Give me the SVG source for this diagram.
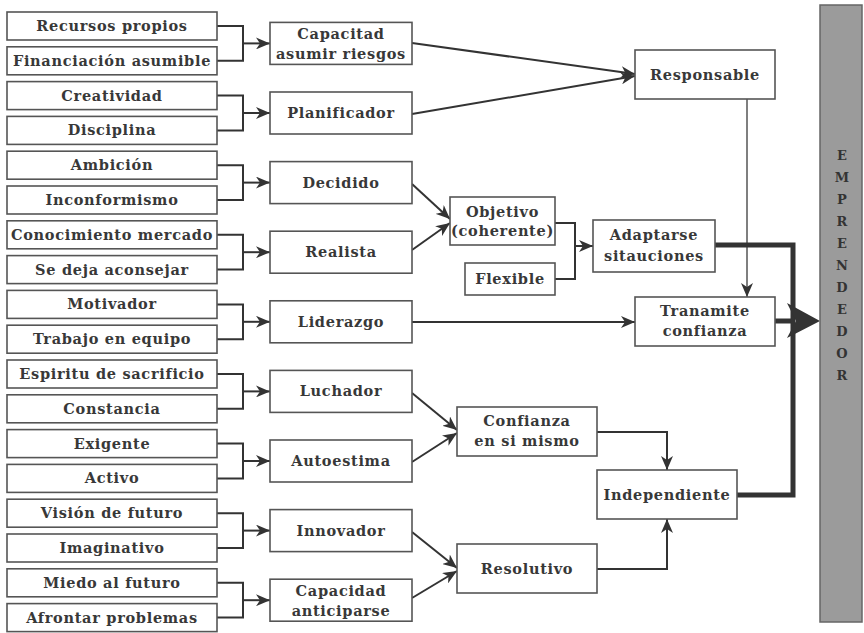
<svg xmlns="http://www.w3.org/2000/svg" width="864" height="633" viewBox="0 0 864 633">
<style>
.box{fill:#fff;stroke:#555;stroke-width:1.6}
.t{font-family:"DejaVu Serif","Liberation Serif",serif;font-weight:bold;font-size:14.5px;letter-spacing:0.7px;fill:#383838;text-anchor:middle}
.c{fill:none;stroke:#333;stroke-width:2}
.thin{fill:none;stroke:#555;stroke-width:1.5}
.thick{fill:none;stroke:#333;stroke-width:5}
.bar{fill:#9b9b9b;stroke:#666;stroke-width:1.5}
.L{font-family:"DejaVu Serif","Liberation Serif",serif;font-weight:bold;font-size:13px;fill:#333;text-anchor:middle}
</style>
<defs>
<marker id="ah" viewBox="0 0 14 12" refX="14" refY="6" markerWidth="14" markerHeight="12" markerUnits="userSpaceOnUse" orient="auto">
<path d="M0,0 L14,6 L0,12 L4,6 z" fill="#333"/>
</marker>
</defs>
<rect width="864" height="633" fill="#fff"/>

<g id="connectors">
<path class="c" d="M217,26 H243 V60.8 H217"/><path class="c" d="M243,43.4 H270" marker-end="url(#ah)"/>
<path class="c" d="M217,95.6 H243 V130.4 H217"/><path class="c" d="M243,113 H270" marker-end="url(#ah)"/>
<path class="c" d="M217,165.2 H243 V200 H217"/><path class="c" d="M243,182.6 H270" marker-end="url(#ah)"/>
<path class="c" d="M217,234.8 H243 V269.6 H217"/><path class="c" d="M243,252.2 H270" marker-end="url(#ah)"/>
<path class="c" d="M217,304.4 H243 V339.2 H217"/><path class="c" d="M243,321.8 H270" marker-end="url(#ah)"/>
<path class="c" d="M217,374 H243 V408.8 H217"/><path class="c" d="M243,391.4 H270" marker-end="url(#ah)"/>
<path class="c" d="M217,443.6 H243 V478.4 H217"/><path class="c" d="M243,461 H270" marker-end="url(#ah)"/>
<path class="c" d="M217,513.2 H243 V548 H217"/><path class="c" d="M243,530.6 H270" marker-end="url(#ah)"/>
<path class="c" d="M217,582.8 H243 V617.6 H217"/><path class="c" d="M243,600.2 H270" marker-end="url(#ah)"/>

<path class="c" d="M412,43 L635,74" marker-end="url(#ah)"/>
<path class="c" d="M412,114 L635,76" marker-end="url(#ah)"/>
<path class="thin" d="M747,99 V297" marker-end="url(#ah)"/>
<path class="c" d="M412,184 L450,219" marker-end="url(#ah)"/>
<path class="c" d="M412,250 L450,223" marker-end="url(#ah)"/>
<path class="c" d="M555,223 H575 V279 H555"/>
<path class="c" d="M575,246 H593" marker-end="url(#ah)"/>
<path class="c" d="M412,322 H635" marker-end="url(#ah)"/>
<path class="c" d="M412,393 L457,430" marker-end="url(#ah)"/>
<path class="c" d="M412,462 L457,433" marker-end="url(#ah)"/>
<path class="c" d="M597,432 H667 V470" marker-end="url(#ah)"/>
<path class="c" d="M412,532 L457,568" marker-end="url(#ah)"/>
<path class="c" d="M412,598 L457,571" marker-end="url(#ah)"/>
<path class="c" d="M597,569 H667 V519" marker-end="url(#ah)"/>
<path class="thick" d="M715,245 H793 V495 H737"/>
<path class="thick" d="M775,321 H792"/>
<polygon points="820,321 787,303 796,321 787,338" fill="#333"/>
</g>

<g id="n-recursos"><rect class="box" x="7" y="12" width="210" height="28"/><text class="t" x="112" y="31">Recursos propios</text></g>
<g id="n-financiacion"><rect class="box" x="7" y="46.8" width="210" height="28"/><text class="t" x="112" y="65.8">Financiación asumible</text></g>
<g id="n-creatividad"><rect class="box" x="7" y="81.6" width="210" height="28"/><text class="t" x="112" y="100.6">Creatividad</text></g>
<g id="n-disciplina"><rect class="box" x="7" y="116.4" width="210" height="28"/><text class="t" x="112" y="135.4">Disciplina</text></g>
<g id="n-ambicion"><rect class="box" x="7" y="151.2" width="210" height="28"/><text class="t" x="112" y="170.2">Ambición</text></g>
<g id="n-inconformismo"><rect class="box" x="7" y="186" width="210" height="28"/><text class="t" x="112" y="205">Inconformismo</text></g>
<g id="n-conocimiento"><rect class="box" x="7" y="220.8" width="210" height="28"/><text class="t" x="112" y="239.8">Conocimiento mercado</text></g>
<g id="n-sedeja"><rect class="box" x="7" y="255.6" width="210" height="28"/><text class="t" x="112" y="274.6">Se deja aconsejar</text></g>
<g id="n-motivador"><rect class="box" x="7" y="290.4" width="210" height="28"/><text class="t" x="112" y="309.4">Motivador</text></g>
<g id="n-trabajo"><rect class="box" x="7" y="325.2" width="210" height="28"/><text class="t" x="112" y="344.2">Trabajo en equipo</text></g>
<g id="n-espiritu"><rect class="box" x="7" y="360" width="210" height="28"/><text class="t" x="112" y="379">Espiritu de sacrificio</text></g>
<g id="n-constancia"><rect class="box" x="7" y="394.8" width="210" height="28"/><text class="t" x="112" y="413.8">Constancia</text></g>
<g id="n-exigente"><rect class="box" x="7" y="429.6" width="210" height="28"/><text class="t" x="112" y="448.6">Exigente</text></g>
<g id="n-activo"><rect class="box" x="7" y="464.4" width="210" height="28"/><text class="t" x="112" y="483.4">Activo</text></g>
<g id="n-vision"><rect class="box" x="7" y="499.2" width="210" height="28"/><text class="t" x="112" y="518.2">Visión de futuro</text></g>
<g id="n-imaginativo"><rect class="box" x="7" y="534" width="210" height="28"/><text class="t" x="112" y="553">Imaginativo</text></g>
<g id="n-miedo"><rect class="box" x="7" y="568.8" width="210" height="28"/><text class="t" x="112" y="587.8">Miedo al futuro</text></g>
<g id="n-afrontar"><rect class="box" x="7" y="603.6" width="210" height="28"/><text class="t" x="112" y="622.6">Afrontar problemas</text></g>

<g id="n-capacitad"><rect class="box" x="270" y="22.4" width="142" height="42"/><text class="t" x="341" y="39.4">Capacitad</text><text class="t" x="341" y="59.4">asumir riesgos</text></g>
<g id="n-planificador"><rect class="box" x="270" y="92" width="142" height="42"/><text class="t" x="341" y="118">Planificador</text></g>
<g id="n-decidido"><rect class="box" x="270" y="161.6" width="142" height="42"/><text class="t" x="341" y="187.6">Decidido</text></g>
<g id="n-realista"><rect class="box" x="270" y="231.2" width="142" height="42"/><text class="t" x="341" y="257.2">Realista</text></g>
<g id="n-liderazgo"><rect class="box" x="270" y="300.8" width="142" height="42"/><text class="t" x="341" y="326.8">Liderazgo</text></g>
<g id="n-luchador"><rect class="box" x="270" y="370.4" width="142" height="42"/><text class="t" x="341" y="396.4">Luchador</text></g>
<g id="n-autoestima"><rect class="box" x="270" y="440" width="142" height="42"/><text class="t" x="341" y="466">Autoestima</text></g>
<g id="n-innovador"><rect class="box" x="270" y="509.6" width="142" height="42"/><text class="t" x="341" y="535.6">Innovador</text></g>
<g id="n-anticiparse"><rect class="box" x="270" y="579.2" width="142" height="42"/><text class="t" x="341" y="596.2">Capacidad</text><text class="t" x="341" y="616.2">anticiparse</text></g>

<g id="n-responsable"><rect class="box" x="635" y="50" width="140" height="49"/><text class="t" x="705" y="79.5">Responsable</text></g>
<g id="n-objetivo"><rect class="box" x="450" y="197" width="105" height="48"/><text class="t" x="502.5" y="217">Objetivo</text><text class="t" x="502.5" y="236">(coherente)</text></g>
<g id="n-flexible"><rect class="box" x="465" y="263" width="90" height="32"/><text class="t" x="510" y="284">Flexible</text></g>
<g id="n-adaptarse"><rect class="box" x="593" y="220" width="122" height="52"/><text class="t" x="654" y="240">Adaptarse</text><text class="t" x="654" y="261">sitauciones</text></g>
<g id="n-transmite"><rect class="box" x="635" y="297" width="140" height="49"/><text class="t" x="705" y="316">Tranamite</text><text class="t" x="705" y="336">confianza</text></g>
<g id="n-confianza"><rect class="box" x="457" y="407" width="140" height="49"/><text class="t" x="527" y="426">Confianza</text><text class="t" x="527" y="446">en si mismo</text></g>
<g id="n-independiente"><rect class="box" x="597" y="470" width="140" height="49"/><text class="t" x="667" y="499.5">Independiente</text></g>
<g id="n-resolutivo"><rect class="box" x="457" y="544" width="140" height="49"/><text class="t" x="527" y="573.5">Resolutivo</text></g>

<g id="n-emprendedor"><rect class="bar" x="820" y="5" width="42" height="617"/>
<text class="L" x="842" y="160">E</text><text class="L" x="842" y="182">M</text><text class="L" x="842" y="204">P</text><text class="L" x="842" y="226">R</text><text class="L" x="842" y="248">E</text><text class="L" x="842" y="270">N</text><text class="L" x="842" y="292">D</text><text class="L" x="842" y="314">E</text><text class="L" x="842" y="336">D</text><text class="L" x="842" y="358">O</text><text class="L" x="842" y="380">R</text>
</g>
</svg>
